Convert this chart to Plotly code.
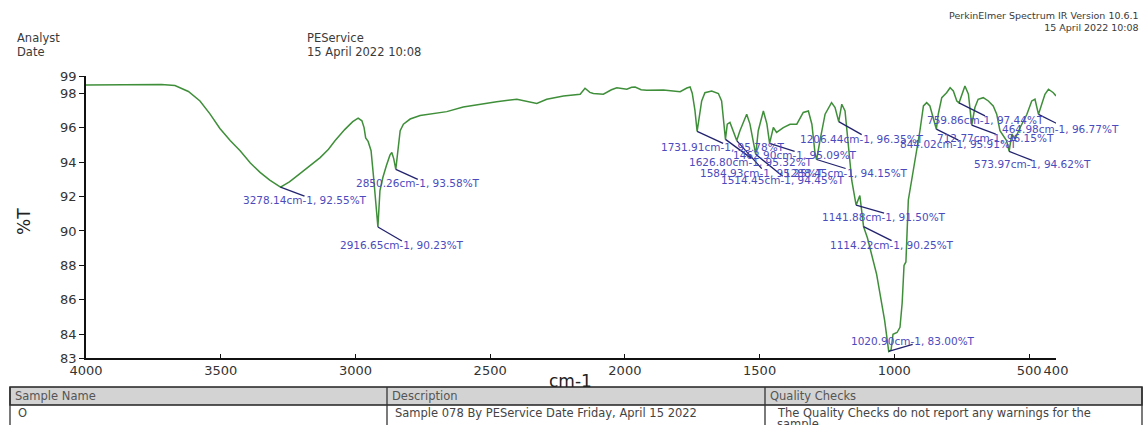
import plotly.graph_objects as go

# ---------------- spectrum data (wavenumber in cm-1, transmittance in %T) ----------------
base_wn = [4000, 3900, 3800, 3720, 3670, 3620, 3577, 3540, 3503, 3465, 3428, 3390, 3354, 3318,
           3245, 3206, 3170, 3131, 3100, 3076, 3039, 3010, 2990, 2976, 2968, 2962, 2953, 2942,
           2932, 2925, 2909, 2898, 2885, 2872, 2865, 2858, 2842, 2834, 2822, 2797, 2760, 2723,
           2661, 2600, 2538, 2476, 2401, 2364, 2327, 2290, 2228, 2166, 2148, 2130, 2117, 2080,
           2050, 2030, 2010, 1993, 1975, 1962, 1940, 1919, 1857, 1795, 1770, 1758, 1750, 1740,
           1715, 1703, 1678, 1653, 1641, 1620, 1610, 1598, 1573, 1548, 1536, 1505, 1486, 1473,
           1449, 1437, 1412, 1387, 1362, 1338, 1319, 1306, 1294, 1276, 1257, 1233, 1220, 1195,
           1183, 1171, 1158, 1128, 1100, 1066, 1036, 1012, 1005, 990, 979, 971, 964, 957, 948,
           942, 923, 905, 892, 880, 868, 855, 837, 824, 806, 793, 781, 768, 750, 738, 725, 701,
           689, 670, 651, 633, 620, 608, 595, 583, 564, 552, 533, 508, 490, 478, 453, 441, 428,
           410, 400]
base_t = [98.48, 98.48, 98.50, 98.50, 98.45, 98.10, 97.55, 96.80, 95.95, 95.25, 94.66, 93.95, 93.40, 92.95,
          92.85, 93.33, 93.80, 94.26, 94.75, 95.24, 95.90, 96.35, 96.55, 96.40, 96.00, 95.40, 95.20, 94.66,
          93.00, 91.50, 92.35, 93.12, 93.80, 94.40, 94.56, 94.20, 94.80, 95.82, 96.20, 96.50, 96.70, 96.80,
          96.93, 97.20, 97.36, 97.51, 97.65, 97.51, 97.40, 97.65, 97.84, 97.94, 98.29, 98.05, 97.98, 97.94,
          98.20, 98.32, 98.25, 98.23, 98.35, 98.36, 98.20, 98.17, 98.19, 98.09, 98.30, 98.36, 98.00, 97.00,
          97.55, 98.03, 98.13, 97.98, 97.55, 96.20, 96.30, 95.82, 95.82, 96.78, 96.22, 95.82, 96.97, 96.22,
          96.01, 95.72, 96.00, 96.20, 96.20, 96.88, 96.97, 96.20, 94.47, 95.24, 96.78, 97.45, 97.17, 97.36,
          96.97, 94.85, 92.93, 92.06, 89.60, 87.50, 84.80, 83.10, 84.00, 84.10, 84.40, 85.80, 88.00, 88.20, 91.80,
          92.35, 94.28, 95.82, 97.26, 97.45, 97.26, 96.59, 96.78, 97.74, 98.03, 98.32, 98.13, 97.55, 97.94,
          98.42, 97.94, 97.17, 97.65, 97.74, 97.55, 97.26, 96.78, 95.82, 95.53, 95.24, 95.63, 95.34, 96.01,
          96.78, 97.55, 97.65, 97.36, 97.94, 98.23, 98.03, 97.84]

# labelled band positions
peak_wn = [3278.14, 2916.65, 2850.26, 1731.91, 1626.80, 1584.93, 1514.45, 1462.90, 1288.45,
           1206.44, 1141.88, 1114.22, 1020.90, 844.02, 759.86, 712.77, 573.97, 464.98]
peak_t = [92.55, 90.23, 93.58, 95.78, 95.32, 95.25, 94.45, 95.09, 94.15,
          96.35, 91.50, 90.25, 83.00, 95.91, 97.44, 96.15, 94.62, 96.77]
# label text offset from each band (pixels, right / down)
label_dx = [24, 24, 22, 26, 26, 25, 27, 25, 29, 23, 28, 28, 24, 22, 26, 24, 23, 22]
label_dy = [13, 18, 14, 16, 23, 32, 26, 12, 13, 17, 12, 18, -10, 15, 17, 13, 13, 15]

x_ticks = [4000, 3500, 3000, 2500, 2000, 1500, 1000, 500, 400]
y_range = [82.62, 99.0]
y_ticks = [y_range[0], 84, 86, 88, 90, 92, 94, 96, 98, 99]

# merge the trace with the labelled bands so the curve passes through them
pts = sorted(list(zip(base_wn, base_t)) + list(zip(peak_wn, peak_t)), key=lambda p: -p[0])
wn = [p[0] for p in pts]
tr = [p[1] for p in pts]

# ---------------- page geometry ----------------
W, H = 1146, 425
ML, MR, MT, MB = 86, 90, 76, 67
PW, PH = W - ML - MR, H - MT - MB


def px(xp):
    return (xp - ML) / PW


def py(yp):
    return (H - MB - yp) / PH


FONT = "DejaVu Sans"
GREEN = "#3f8f3a"
LBL = "#4b4bbd"
LBL_LINE = "#22226e"
TXT = "#3a3a3a"

fig = go.Figure()
fig.add_trace(go.Scatter(x=wn, y=tr, mode="lines",
                         line=dict(color=GREEN, width=1.5), hoverinfo="skip", showlegend=False))

shapes = []
annotations = []

# band labels: leader line + text
for w_, t_, dx, dy in zip(peak_wn, peak_t, label_dx, label_dy):
    end_dy = dy - 4 if dy > 0 else dy + 3
    shapes.append(dict(type="line", xref="x", yref="y",
                       xsizemode="pixel", ysizemode="pixel",
                       xanchor=w_, yanchor=t_, x0=0, x1=dx, y0=0, y1=-end_dy,
                       line=dict(color=LBL_LINE, width=1.3)))
    annotations.append(dict(x=w_, y=t_, xref="x", yref="y", xshift=dx, yshift=-dy,
                            text=f"{w_:.2f}cm-1, {t_:.2f}%T", showarrow=False,
                            xanchor="center", yanchor="middle",
                            font=dict(family=FONT, size=10.5, color=LBL)))

# header block
for txt, xp, yp in [("Analyst", 15, 38), ("Date", 15, 52),
                    ("PEService", 305, 38), ("15 April 2022 10:08", 305, 52)]:
    annotations.append(dict(x=px(xp), y=py(yp), xref="paper", yref="paper", text=txt,
                            showarrow=False, xanchor="left", yanchor="middle",
                            font=dict(family=FONT, size=11.5, color=TXT)))
annotations.append(dict(x=px(1141), y=py(8), xref="paper", yref="paper",
                        text="PerkinElmer Spectrum IR Version 10.6.1<br>15 April 2022 10:08",
                        showarrow=False, xanchor="right", yanchor="top", align="right",
                        font=dict(family=FONT, size=9.5, color=TXT)))

# axis titles
annotations.append(dict(x=px(570), y=py(381), xref="paper", yref="paper", text="cm-1",
                        showarrow=False, xanchor="center", yanchor="middle",
                        font=dict(family=FONT, size=17, color="#222")))
annotations.append(dict(x=px(24), y=py(222), xref="paper", yref="paper", text="%T",
                        showarrow=False, xanchor="center", yanchor="middle", textangle=-90,
                        font=dict(family=FONT, size=17, color="#222")))

# sample table
T_TOP, T_MID, T_BOT = 387, 405, 440
COLS = [10, 387, 765, 1142]
shapes.append(dict(type="rect", xref="paper", yref="paper",
                   x0=px(COLS[0]), x1=px(COLS[-1]), y0=py(T_MID), y1=py(T_TOP),
                   fillcolor="#d3d3d3", line=dict(color="#222", width=1.5), layer="below"))
for cx in COLS:
    shapes.append(dict(type="line", xref="paper", yref="paper",
                       x0=px(cx), x1=px(cx), y0=py(T_TOP), y1=py(T_BOT),
                       line=dict(color="#333", width=1.3)))
for txt, cx in zip(["Sample Name", "Description", "Quality Checks"], COLS[:3]):
    annotations.append(dict(x=px(cx + 3), y=py(396), xref="paper", yref="paper", text=txt,
                            showarrow=False, xanchor="left", yanchor="middle",
                            font=dict(family=FONT, size=11.5, color="#555")))
row_cells = [("O", 16, 413),
             ("Sample 078 By PEService Date Friday, April 15 2022", 393, 413),
             ("The Quality Checks do not report any warnings for the", 775, 413),
             ("sample.", 775, 424)]
for txt, xp, yp in row_cells:
    annotations.append(dict(x=px(xp), y=py(yp), xref="paper", yref="paper", text=txt,
                            showarrow=False, xanchor="left", yanchor="middle",
                            font=dict(family=FONT, size=11.5, color="#444")))

fig.update_layout(
    width=W, height=H,
    margin=dict(l=ML, r=MR, t=MT, b=MB, pad=0),
    paper_bgcolor="white", plot_bgcolor="white",
    showlegend=False,
    shapes=shapes, annotations=annotations,
    xaxis=dict(range=[4000, 400], tickvals=x_ticks, ticktext=[str(v) for v in x_ticks],
               showgrid=False, zeroline=False, showline=True, linecolor="#111", linewidth=1.6,
               ticks="inside", ticklen=4, tickcolor="#111", tickwidth=1.3,
               tickfont=dict(family=FONT, size=13, color="#333")),
    yaxis=dict(range=y_range, tickvals=y_ticks, ticktext=[f"{v:.0f}" for v in y_ticks],
               showgrid=False, zeroline=False, showline=True, linecolor="#111", linewidth=1.6,
               ticks="outside", ticklen=5, tickcolor="#111", tickwidth=1.3,
               tickfont=dict(family=FONT, size=13, color="#333")),
)

fig.write_html("out.html")
